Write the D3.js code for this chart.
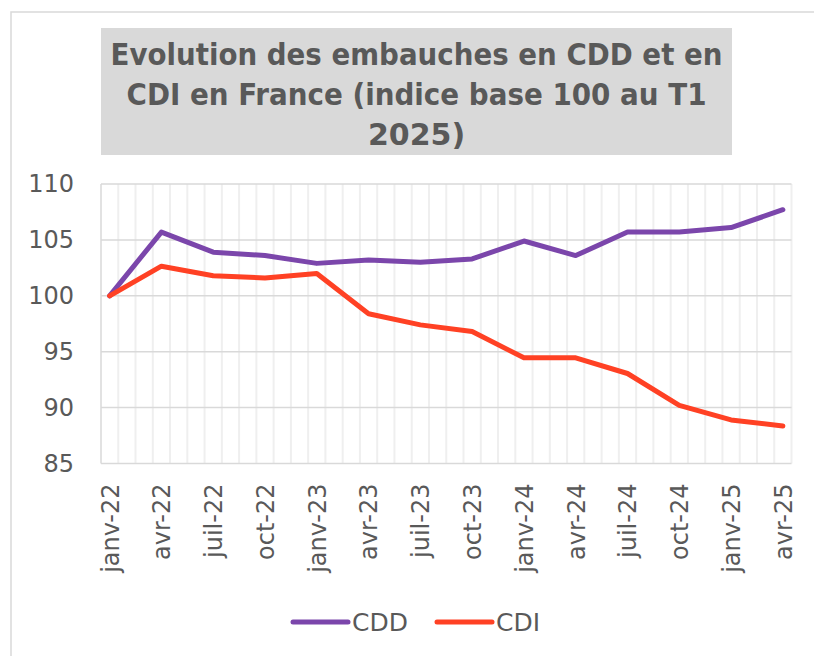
<!DOCTYPE html>
<html>
<head>
<meta charset="utf-8">
<script src="https://cdn.jsdelivr.net/npm/d3@7"></script>
<style>
  body { margin: 0; background: #fff; }
  svg { display: block; font-family: "DejaVu Sans", sans-serif; }
</style>
</head>
<body>
<svg id="chart" width="814" height="656"></svg>
<script>
// quarterly labels, on a monthly category axis (one category per month)
var quarters = ["janv-22", "avr-22", "juil-22", "oct-22", "janv-23", "avr-23", "juil-23",
                "oct-23", "janv-24", "avr-24", "juil-24", "oct-24", "janv-25", "avr-25"];
var cdd = [100, 105.7, 103.9, 103.6, 102.9, 103.2, 103.0, 103.3, 104.9, 103.6, 105.7, 105.7, 106.1, 107.7];
var cdi = [100, 102.65, 101.8, 101.6, 102.0, 98.4, 97.4, 96.8, 94.45, 94.45, 93.05, 90.2, 88.9, 88.35];
var yTicks = [85, 90, 95, 100, 105, 110];
var titleLines = ["Evolution des embauches en CDD et en", "CDI en France (indice base 100 au T1", "2025)"];

(function() {
    var svg = d3.select("#chart");
    var nMonths = (quarters.length - 1) * 3 + 1;

    var x = d3.scaleLinear().domain([-0.5, nMonths - 0.5]).range([101, 791.5]);
    var y = d3.scaleLinear().domain([85, 110]).range([463.5, 184]);

    // outer chart border (runs off the right / bottom)
    svg.append("rect")
        .attr("x", 11).attr("y", 12)
        .attr("width", 820).attr("height", 660)
        .attr("fill", "none").attr("stroke", "#d9d9d9").attr("stroke-width", 1.5);

    // title box
    svg.append("rect")
        .attr("x", 101).attr("y", 28).attr("width", 631).attr("height", 127)
        .attr("fill", "#d9d9d9");
    var titleW = [612, 580, null];
    titleLines.forEach(function(t, i) {
        var txt = svg.append("text")
            .attr("x", 416.5).attr("y", 65 + i * 40)
            .attr("text-anchor", "middle")
            .attr("font-size", 30).attr("font-weight", "bold")
            .attr("fill", "#595959")
            .text(t);
        if (titleW[i]) txt.attr("textLength", titleW[i]).attr("lengthAdjust", "spacingAndGlyphs");
    });

    // vertical gridlines at month boundaries
    svg.append("g").selectAll("line")
        .data(d3.range(1, nMonths + 1))
        .enter().append("line")
        .attr("x1", function(d) { return x(d - 0.5); })
        .attr("x2", function(d) { return x(d - 0.5); })
        .attr("y1", y(110)).attr("y2", y(85))
        .attr("stroke", "#efefef").attr("stroke-width", 2);

    // horizontal gridlines
    svg.append("g").selectAll("line")
        .data(yTicks)
        .enter().append("line")
        .attr("x1", x(-0.5)).attr("x2", x(nMonths - 0.5))
        .attr("y1", function(d) { return y(d); })
        .attr("y2", function(d) { return y(d); })
        .attr("stroke", "#d9d9d9").attr("stroke-width", 1.5);

    // left edge of plot
    svg.append("line")
        .attr("x1", x(-0.5)).attr("x2", x(-0.5))
        .attr("y1", y(110)).attr("y2", y(85))
        .attr("stroke", "#d9d9d9").attr("stroke-width", 1.5);

    // y axis labels
    var yAxis = svg.append("g")
        .attr("transform", "translate(" + (x(-0.5) - 27) + ",0)")
        .call(d3.axisLeft(y).tickValues(yTicks).tickSize(0).tickPadding(0));
    yAxis.select(".domain").remove();
    yAxis.selectAll("text")
        .attr("font-size", 24).attr("fill", "#595959")
        .attr("font-family", "DejaVu Sans");

    // x axis labels, rotated
    var xAxis = svg.append("g")
        .attr("transform", "translate(0," + (y(85) + 20) + ")")
        .call(d3.axisBottom(x).tickValues(d3.range(0, nMonths, 3)).tickSize(0)
            .tickFormat(function(d) { return quarters[d / 3]; }));
    xAxis.select(".domain").remove();
    xAxis.selectAll("text")
        .attr("font-size", 24).attr("fill", "#595959")
        .attr("font-family", "DejaVu Sans")
        .attr("transform", "rotate(-90)")
        .attr("text-anchor", "end")
        .attr("x", 0).attr("y", 0).attr("dy", "0.35em");

    var line = d3.line()
        .x(function(d, i) { return x(i * 3); })
        .y(function(d) { return y(d); });

    var series = [
        { name: "CDD", values: cdd, color: "#7b46ab" },
        { name: "CDI", values: cdi, color: "#ff4124" }
    ];

    series.forEach(function(s) {
        svg.append("path")
            .datum(s.values)
            .attr("d", line)
            .attr("fill", "none")
            .attr("stroke", s.color)
            .attr("stroke-width", 5)
            .attr("stroke-linejoin", "round")
            .attr("stroke-linecap", "round");
    });

    // legend
    var legendX = [293, 437];
    series.forEach(function(s, i) {
        var g = svg.append("g").attr("transform", "translate(" + legendX[i] + ",622)");
        g.append("line")
            .attr("x1", 0).attr("x2", 55).attr("y1", 0).attr("y2", 0)
            .attr("stroke", s.color).attr("stroke-width", 5)
            .attr("stroke-linecap", "round");
        g.append("text")
            .attr("x", 59).attr("y", 0).attr("dy", "0.36em")
            .attr("font-size", 25).attr("fill", "#595959")
            .text(s.name);
    });
})();
</script>
</body>
</html>
